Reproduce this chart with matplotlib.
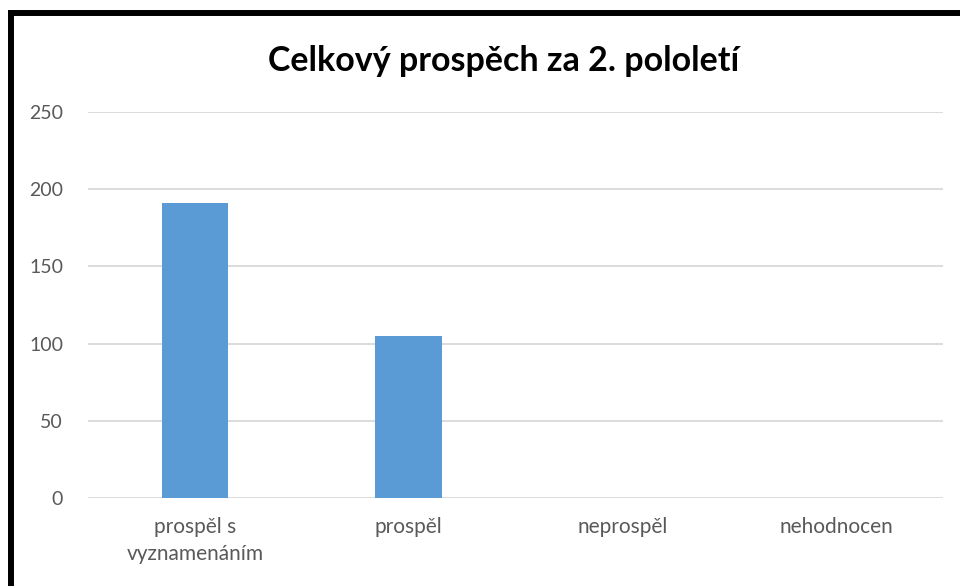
import matplotlib.pyplot as plt
from matplotlib.lines import Line2D

# data
categories = ['prospěl s\nvyznamenáním', 'prospěl', 'neprospěl', 'nehodnocen']
values = [191, 105, 0, 0]
yticks = [0, 50, 100, 150, 200, 250]

plt.rcParams['font.family'] = ['Lato', 'DejaVu Sans']

fig = plt.figure(figsize=(9.6, 5.86), dpi=100)
ax = fig.add_axes([88/960, 88/586, (943-88)/960, (498-112)/586])

x = range(len(categories))
ax.bar(x, values, width=0.31, color='#5b9bd5', zorder=3)

ax.set_xlim(-0.5, len(categories) - 0.5)
ax.set_ylim(0, 250)
ax.set_yticks(yticks)
ax.set_xticks(list(x))
ax.set_xticklabels(categories, linespacing=1.4)

ax.grid(axis='y', color='#d9d9d9', linewidth=1.3, zorder=0)
for s in ax.spines.values():
    s.set_visible(False)
ax.tick_params(length=0, colors='#595959')
ax.tick_params(axis='y', pad=18, labelsize=14)
ax.tick_params(axis='x', pad=14, labelsize=15)

fig.text(504/960, (586-61)/586, 'Celkový prospěch za 2. pololetí',
         ha='center', va='center', fontsize=24.5, fontweight='bold',
         color='black')

# black frame (top and left)
fig.add_artist(Line2D([8/960, 1], [1-12.5/586, 1-12.5/586],
                      transform=fig.transFigure, color='black', linewidth=4.3,
                      solid_capstyle='butt'))
fig.add_artist(Line2D([11/960, 11/960], [0, 1-10/586],
                      transform=fig.transFigure, color='black', linewidth=4.3,
                      solid_capstyle='butt'))

fig.savefig('out.png', dpi=100)
